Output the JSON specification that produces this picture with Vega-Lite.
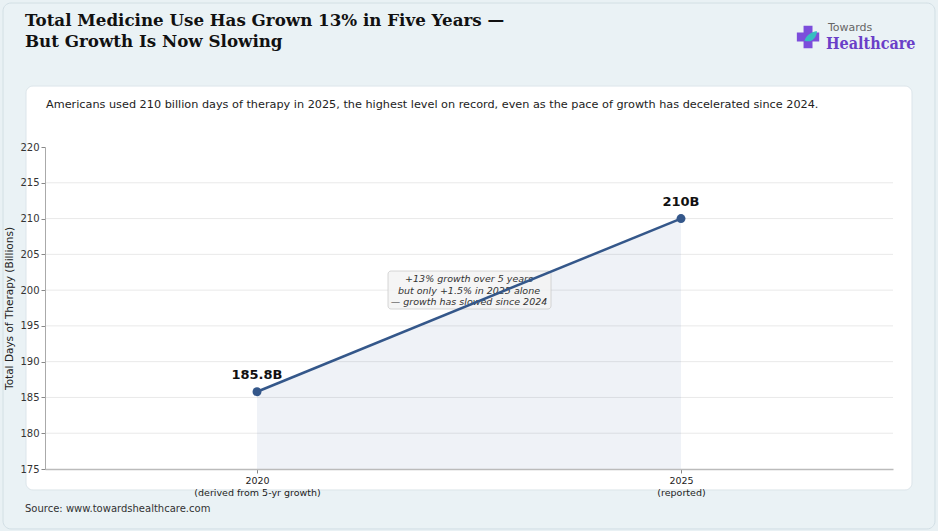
{
  "$schema": "https://vega.github.io/schema/vega-lite/v6.json",
  "width": 848,
  "height": 322,
  "autosize": {"type": "none"},
  "padding": {"left": 45, "top": 147, "right": 45, "bottom": 62},
  "background": "#e9f1f4",
  "title": {
    "text": ["Total Medicine Use Has Grown 13% in Five Years —", "But Growth Is Now Slowing"],
    "anchor": "start",
    "frame": "group",
    "dx": -20,
    "font": "DejaVu Serif",
    "fontSize": 16.7,
    "fontWeight": "bold",
    "color": "#111111",
    "lineHeight": 21,
    "offset": -48
  },
  "config": {
    "font": "DejaVu Sans",
    "view": {"stroke": null},
    "axisX": {
      "labelFontSize": 9.5,
      "labelLineHeight": 12,
      "labelColor": "#222222",
      "labelPadding": 2,
      "labelOverlap": false,
      "tickSize": 4,
      "tickWidth": 1,
      "tickColor": "#888888",
      "domainColor": "#bbbbbb",
      "domainWidth": 1.5,
      "grid": false
    },
    "axisY": {
      "titleFontSize": 10.5,
      "titleFontWeight": "normal",
      "titleColor": "#222222",
      "titlePadding": 5,
      "labelOverlap": false,
      "labelFontSize": 10,
      "labelColor": "#333333",
      "labelPadding": 2,
      "tickSize": 4,
      "tickWidth": 1,
      "tickColor": "#888888",
      "domainColor": "#aaaaaa",
      "grid": false
    }
  },
  "data": {
    "values": [
      {"year": 2020, "days": 185.8, "label": "185.8B"},
      {"year": 2025, "days": 210, "label": "210B"}
    ]
  },
  "layer": [
    {
      "data": {"values": [{}]},
      "mark": {"type": "rect", "fill": "#eaf2f5", "stroke": "#d2dfe5", "strokeWidth": 1, "cornerRadius": 8, "clip": false},
      "encoding": {
        "x": {"datum": 2017.005, "type": "quantitative", "scale": {"domain": [2017.5, 2027.5], "nice": false, "zero": false}},
        "x2": {"datum": 2027.995},
        "y": {"datum": 240.12, "type": "quantitative", "scale": {"domain": [175, 220], "nice": false, "zero": false}},
        "y2": {"datum": 166.62}
      }
    },
    {
      "data": {"values": [{}]},
      "mark": {"type": "rect", "fill": "#ffffff", "stroke": "#dce5ea", "strokeWidth": 1, "cornerRadius": 7, "clip": false},
      "encoding": {
        "x": {"datum": 2017.276, "type": "quantitative", "scale": {"domain": [2017.5, 2027.5], "nice": false, "zero": false}},
        "x2": {"datum": 2027.724},
        "y": {"datum": 228.52, "type": "quantitative", "scale": {"domain": [175, 220], "nice": false, "zero": false}},
        "y2": {"datum": 172.07}
      }
    },
    {
      "data": {"values": [{"v": 180}, {"v": 185}, {"v": 190}, {"v": 195}, {"v": 200}, {"v": 205}, {"v": 210}, {"v": 215}]},
      "mark": {"type": "rule", "color": "#e9e9e9", "strokeWidth": 1},
      "encoding": {
        "y": {"field": "v", "type": "quantitative", "scale": {"domain": [175, 220], "nice": false, "zero": false}}
      }
    },
    {
      "mark": {"type": "area", "color": "#4a72a8", "opacity": 0.09},
      "encoding": {
        "x": {"field": "year", "type": "quantitative", "scale": {"domain": [2017.5, 2027.5], "nice": false, "zero": false},
          "axis": {
            "title": null,
            "zindex": 1,
            "values": [2020, 2025],
            "tickCount": 5,
            "labelExpr": "datum.value == 2020 ? ['2020', '(derived from 5-yr growth)'] : ['2025', '(reported)']"
          }
        },
        "y": {"field": "days", "type": "quantitative", "scale": {"domain": [175, 220], "nice": false, "zero": false},
          "axis": {
            "title": "Total Days of Therapy (Billions)",
            "zindex": 1,
            "values": [175, 180, 185, 190, 195, 200, 205, 210, 215, 220],
            "tickCount": 12,
            "labelOverlap": false
          }
        },
        "y2": {"datum": 175}
      }
    },
    {
      "data": {"values": [{}]},
      "mark": {"type": "rect", "fill": "#f3f3f3", "fillOpacity": 0.85, "stroke": "#cccccc", "strokeWidth": 0.8, "cornerRadius": 3},
      "encoding": {
        "x": {"datum": 2021.545, "type": "quantitative", "scale": {"domain": [2017.5, 2027.5], "nice": false, "zero": false}},
        "x2": {"datum": 2023.467},
        "y": {"datum": 202.67, "type": "quantitative", "scale": {"domain": [175, 220], "nice": false, "zero": false}},
        "y2": {"datum": 197.36}
      }
    },
    {
      "data": {"values": [{}]},
      "mark": {
        "type": "text",
        "text": ["+13% growth over 5 years", "but only +1.5% in 2025 alone", "— growth has slowed since 2024"],
        "fontSize": 9.5,
        "fontStyle": "italic",
        "color": "#333333",
        "lineHeight": 11.5,
        "align": "center",
        "baseline": "middle"
      },
      "encoding": {
        "x": {"datum": 2022.5, "type": "quantitative", "scale": {"domain": [2017.5, 2027.5], "nice": false, "zero": false}},
        "y": {"datum": 201.55, "type": "quantitative", "scale": {"domain": [175, 220], "nice": false, "zero": false}}
      }
    },
    {
      "mark": {"type": "line", "color": "#34578a", "strokeWidth": 2.5},
      "encoding": {
        "x": {"field": "year", "type": "quantitative", "scale": {"domain": [2017.5, 2027.5], "nice": false, "zero": false}},
        "y": {"field": "days", "type": "quantitative", "scale": {"domain": [175, 220], "nice": false, "zero": false}}
      }
    },
    {
      "mark": {"type": "point", "filled": true, "color": "#34578a", "opacity": 1, "size": 80},
      "encoding": {
        "x": {"field": "year", "type": "quantitative", "scale": {"domain": [2017.5, 2027.5], "nice": false, "zero": false}},
        "y": {"field": "days", "type": "quantitative", "scale": {"domain": [175, 220], "nice": false, "zero": false}}
      }
    },
    {
      "mark": {"type": "text", "fontSize": 13, "fontWeight": "bold", "color": "#111111", "dy": -17, "baseline": "middle"},
      "encoding": {
        "x": {"field": "year", "type": "quantitative", "scale": {"domain": [2017.5, 2027.5], "nice": false, "zero": false}},
        "y": {"field": "days", "type": "quantitative", "scale": {"domain": [175, 220], "nice": false, "zero": false}},
        "text": {"field": "label"}
      }
    },
    {
      "data": {"values": [{}]},
      "mark": {
        "type": "text",
        "text": "Americans used 210 billion days of therapy in 2025, the highest level on record, even as the pace of growth has decelerated since 2024.",
        "fontSize": 11.25,
        "color": "#222222",
        "align": "left",
        "baseline": "middle",
        "clip": false
      },
      "encoding": {
        "x": {"datum": 2017.512, "type": "quantitative", "scale": {"domain": [2017.5, 2027.5], "nice": false, "zero": false}},
        "y": {"datum": 225.9, "type": "quantitative", "scale": {"domain": [175, 220], "nice": false, "zero": false}}
      }
    },
    {
      "data": {"values": [{}]},
      "mark": {
        "type": "text",
        "text": "Source: www.towardshealthcare.com",
        "fontSize": 10,
        "color": "#333333",
        "align": "left",
        "baseline": "middle",
        "clip": false
      },
      "encoding": {
        "x": {"datum": 2017.264, "type": "quantitative", "scale": {"domain": [2017.5, 2027.5], "nice": false, "zero": false}},
        "y": {"datum": 169.41, "type": "quantitative", "scale": {"domain": [175, 220], "nice": false, "zero": false}}
      }
    },
    {
      "data": {"values": [{}]},
      "mark": {"type": "point", "shape": "cross", "filled": true, "color": "#7c4ddb", "opacity": 1, "size": 500, "clip": false},
      "encoding": {
        "x": {"datum": 2026.498, "type": "quantitative", "scale": {"domain": [2017.5, 2027.5], "nice": false, "zero": false}},
        "y": {"datum": 235.37, "type": "quantitative", "scale": {"domain": [175, 220], "nice": false, "zero": false}}
      }
    },
    {
      "data": {"values": [{}]},
      "mark": {"type": "point", "shape": "M-1,0.5 C-0.6,-0.6 0.4,-1 1,-1 C0.9,0 0.2,0.9 -1,0.5 Z", "filled": true, "color": "#33c3c0", "opacity": 0.95, "size": 160, "clip": false},
      "encoding": {
        "x": {"datum": 2026.53, "type": "quantitative", "scale": {"domain": [2017.5, 2027.5], "nice": false, "zero": false}},
        "y": {"datum": 235.3, "type": "quantitative", "scale": {"domain": [175, 220], "nice": false, "zero": false}}
      }
    },
    {
      "data": {"values": [{}]},
      "mark": {"type": "text", "text": "Towards", "fontSize": 11, "color": "#666666", "align": "left", "baseline": "middle", "clip": false},
      "encoding": {
        "x": {"datum": 2026.733, "type": "quantitative", "scale": {"domain": [2017.5, 2027.5], "nice": false, "zero": false}},
        "y": {"datum": 236.63, "type": "quantitative", "scale": {"domain": [175, 220], "nice": false, "zero": false}}
      }
    },
    {
      "data": {"values": [{}]},
      "mark": {"type": "text", "text": "Healthcare", "font": "DejaVu Serif Condensed, DejaVu Serif", "fontSize": 16, "fontWeight": "bold", "color": "#6a3fc8", "align": "left", "baseline": "middle", "clip": false},
      "encoding": {
        "x": {"datum": 2026.71, "type": "quantitative", "scale": {"domain": [2017.5, 2027.5], "nice": false, "zero": false}},
        "y": {"datum": 234.39, "type": "quantitative", "scale": {"domain": [175, 220], "nice": false, "zero": false}}
      }
    }
  ]
}
